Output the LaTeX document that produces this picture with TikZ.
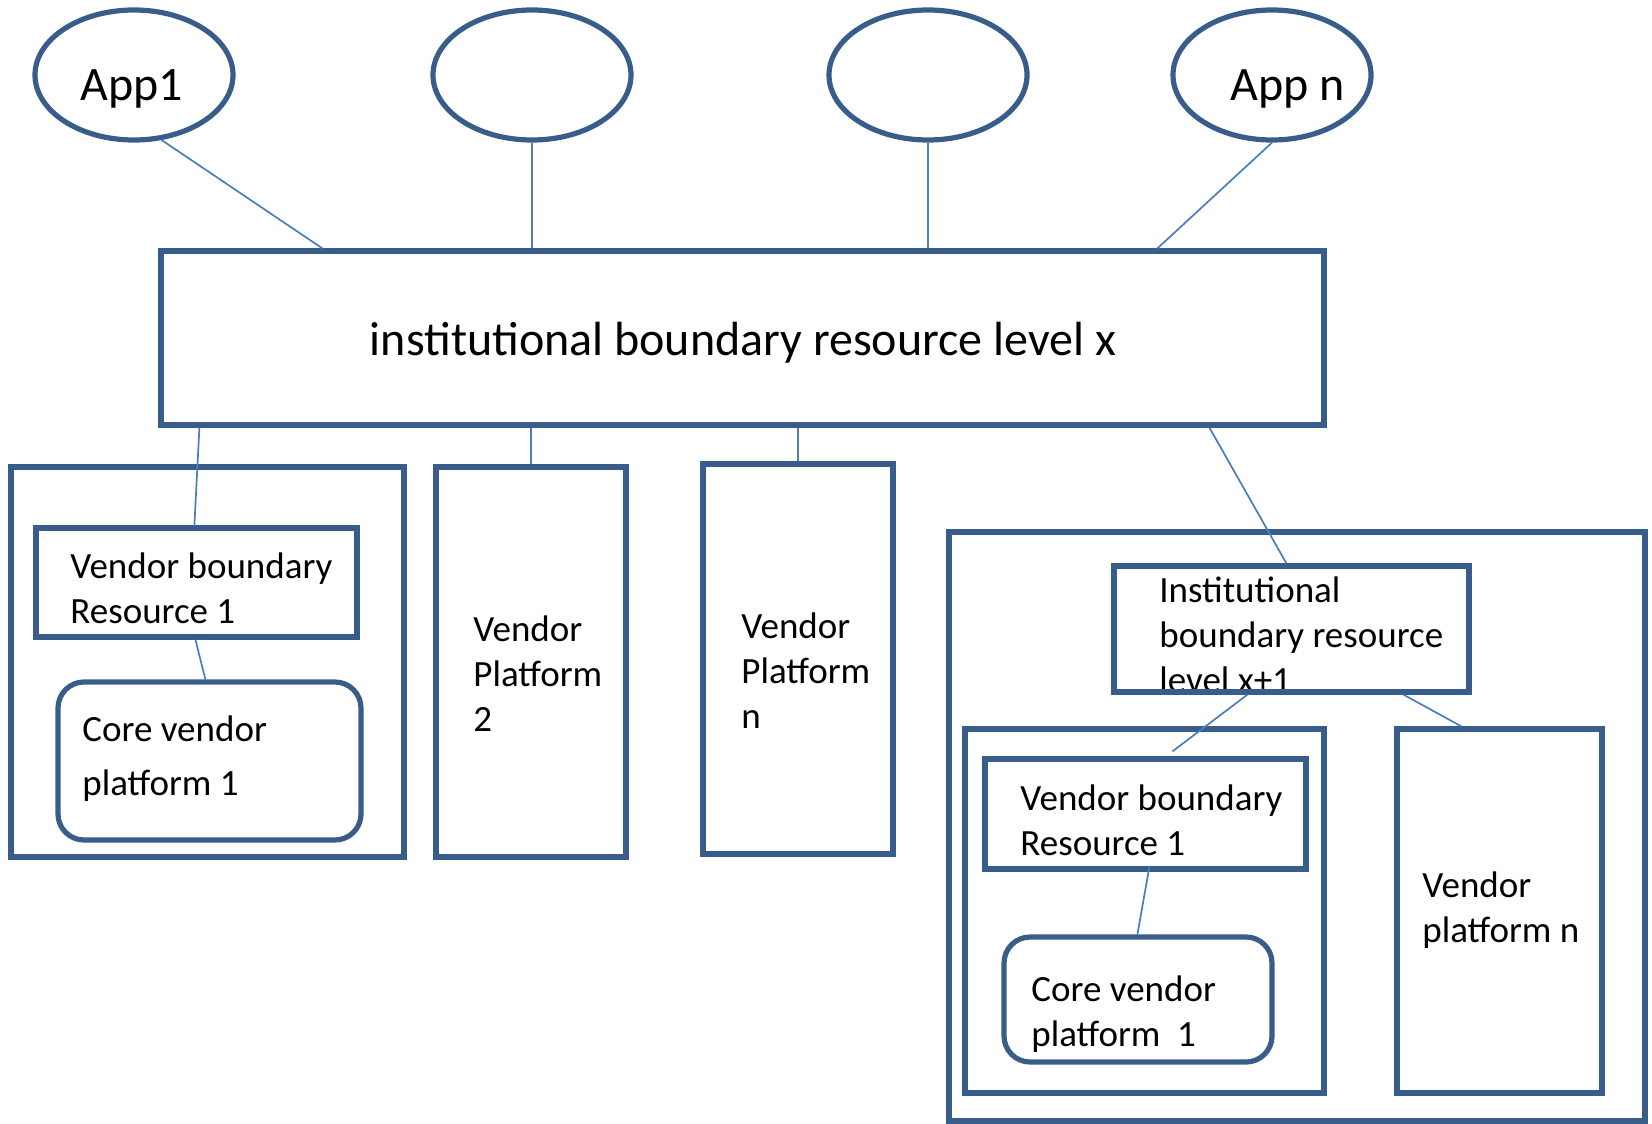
\documentclass[tikz,border=0pt]{standalone}
\usepackage{fontspec}
\setmainfont{Carlito}
\usepackage{tikz}
\usetikzlibrary{shapes,fit,calc}
\definecolor{myBlue}{RGB}{56,93,138}
\definecolor{myLBlue}{RGB}{74,126,187}

\tikzset{
  box/.style={draw=myBlue, line width=2.6pt, inner sep=0pt},
  app/.style={ellipse, draw=myBlue, line width=2.6pt, minimum width=99pt, minimum height=65pt},
  link/.style={draw=myLBlue, line width=0.85pt},
  txt/.style={font=\fontsize{18.5}{22.5}\selectfont, align=left, inner sep=0pt, anchor=west},
  bigtxt/.style={font=\fontsize{24}{29}\selectfont, inner sep=0pt}
}

\begin{document}
\begin{tikzpicture}[x=0.5pt, y=-0.5pt]
  \useasboundingbox (0,0) rectangle (1652,1123);
  % Apps
  \node[app] (app1) at (134,75) {};
  \node[app] (app2) at (532,75) {};
  \node[app] (app3) at (928,75) {};
  \node[app] (appn) at (1272,75) {};
  \node[bigtxt] (app1-txt) at (132,89) {App1};
  \node[bigtxt] (appn-txt) at (1288,89) {App n};
  % level x
  \node[box, fit={(161,251) (1324,425)}] (ibrx) {};
  \node[bigtxt] (ibrx-txt) at (743,343) {institutional boundary resource level x};
  \draw[link] (app1.-67) -- ($(ibrx.north west)+(164,0)$);
  \draw[link] (app2.south) -- (app2.south |- ibrx.north);
  \draw[link] (app3.south) -- (app3.south |- ibrx.north);
  \draw[link] (appn.south) -- ($(ibrx.north west)+(999,0)$);
  % Vendor 1
  \node[box, fit={(11,467) (404,857)}] (vnd1) {};
  \node[box, fit={(36,528) (357,637)}] (vbr1) {};
  \node[box, rounded corners=13pt, fit={(58,682) (361,840)}] (cvp1) {};
  \node[txt] (vbr1-txt) at (70,588) {Vendor boundary\\Resource 1};
  \node[txt, font=\fontsize{18.5}{27}\selectfont] (cvp1-txt) at (82,759) {Core vendor\\platform 1};
  \draw[link] ($(ibrx.south west)+(41,0)$) -- ($(vbr1.north west)+(161,0)$);
  \draw[link] ($(vbr1.south west)+(162,0)$) -- ($(cvp1.north west)+(150,0)$);
  % Vendor 2 und n
  \node[box, fit={(436,467) (626,857)}] (vp2) {};
  \node[txt] (vp2-txt) at (473,674) {Vendor\\Platform\\2};
  \node[box, fit={(703,464) (893,854)}] (vpn) {};
  \node[txt] (vpn-txt) at (741,671) {Vendor\\Platform\\n};
  \draw[link] (vp2.north |- ibrx.south) -- (vp2.north);
  \draw[link] (vpn.north |- ibrx.south) -- (vpn.north);
  % level x+1
  \node[box, fit={(949,532) (1645,1121)}] (ibr2-out) {};
  \node[txt] (ibr2-txt) at (1159,635) {Institutional\\boundary resource\\level x+1};
  \node[box, fit={(1114,566) (1469,692)}] (ibr2) {};
  \draw[link] ($(ibrx.south west)+(1051,0)$) -- ($(ibr2.north west)+(175,0)$);
  \node[box, fit={(965,729) (1324,1093)}] (vnd2) {};
  \node[box, fit={(985,759) (1306,869)}] (vbr2) {};
  \node[box, rounded corners=13pt, fit={(1004,937) (1272,1062)}] (cvp2) {};
  \node[txt] (vbr2-txt) at (1020,820) {Vendor boundary\\Resource 1};
  \node[txt] (cvp2-txt) at (1031,1014) {Core vendor\\platform~~1};
  \node[box, fit={(1397,729) (1602,1093)}] (vpn2) {};
  \node[txt] (vpn2-txt) at (1422,910) {Vendor\\platform n};
  \draw[link] ($(ibr2.south west)+(136,0)$) -- ($(vbr2.north west)+(190,-5)$);
  \draw[link] ($(ibr2.south west)+(292,0)$) -- ($(vpn2.north west)+(67,0)$);
  \draw[link] ($(vbr2.south west)+(167,-5)$) -- ($(cvp2.north west)+(136,0)$);
\end{tikzpicture}
\end{document}
